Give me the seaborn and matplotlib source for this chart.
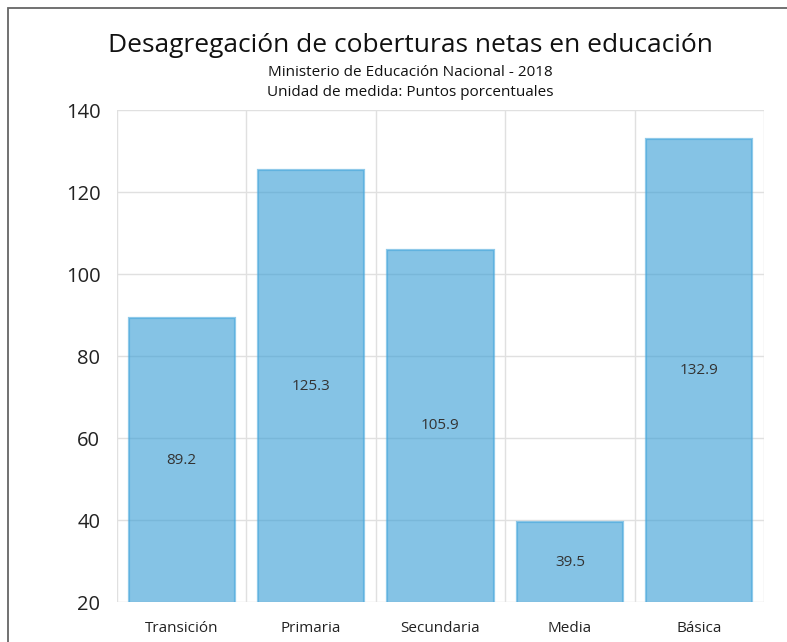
import matplotlib
matplotlib.use("Agg")
import matplotlib.pyplot as plt
import seaborn as sns
import pandas as pd
from matplotlib.patches import Rectangle

categories = ["Transición", "Primaria", "Secundaria", "Media", "Básica"]
values = [89.2, 125.3, 105.9, 39.5, 132.9]
y_ticks = [20, 40, 60, 80, 100, 120, 140]

title = "Desagregación de coberturas netas en educación"
subtitle1 = "Ministerio de Educación Nacional - 2018"
subtitle2 = "Unidad de medida: Puntos porcentuales"

sns.set_theme(style="white")
plt.rcParams['font.family'] = ['Open Sans', 'DejaVu Sans']

df = pd.DataFrame({"cat": categories, "val": values})

W, H = 787, 642
fig = plt.figure(figsize=(W / 100, H / 100), dpi=100)
fig.patch.set_facecolor("white")
ax = fig.add_axes([117 / W, 1 - 602 / H, (764 - 117) / W, (602 - 110) / H])

sns.barplot(data=df, x="cat", y="val", ax=ax, color="#3a9fd6", alpha=0.62,
            width=0.82, edgecolor="#4aa8dc", linewidth=1.6, saturation=1, zorder=3)

ax.set_ylim(20, 140)
ax.set_xlim(-0.5, len(categories) - 0.5)
ax.set_yticks(y_ticks)
ax.set_yticklabels([str(t) for t in y_ticks], fontsize=14.5, color="#222222")
ax.set_xticks(range(len(categories)))
ax.set_xticklabels(categories, fontsize=11, color="#222222")
ax.tick_params(axis="y", length=0, pad=12)
ax.tick_params(axis="x", length=0, pad=14)
ax.set_xlabel("")
ax.set_ylabel("")

for s in ax.spines.values():
    s.set_visible(False)

# grid lines
for t in y_ticks:
    ax.axhline(t, color="#e0e0e0", linewidth=1.0, zorder=1)
for b in [i - 0.5 for i in range(len(categories) + 1)]:
    ax.axvline(b, color="#e0e0e0", linewidth=1.0, zorder=1)

for i, v in enumerate(values):
    ax.text(i, (20 + v) / 2, f"{v}", ha="center", va="center",
            fontsize=11, color="#333333", zorder=5)

fig.text(410 / W, 1 - 46 / H, title, ha="center", va="center", fontsize=19, color="#111111")
fig.text(410 / W, 1 - 72 / H, subtitle1, ha="center", va="center", fontsize=11, color="#111111")
fig.text(410 / W, 1 - 92 / H, subtitle2, ha="center", va="center", fontsize=11, color="#111111")

# outer frame (cut off at right and bottom)
fig.patches.append(Rectangle((8 / W, -0.05), 1.1, 1 - 8 / H + 0.05, transform=fig.transFigure,
                             fill=False, edgecolor="#666666", linewidth=1.3, figure=fig))

fig.savefig("out.png", dpi=100, facecolor="white")
